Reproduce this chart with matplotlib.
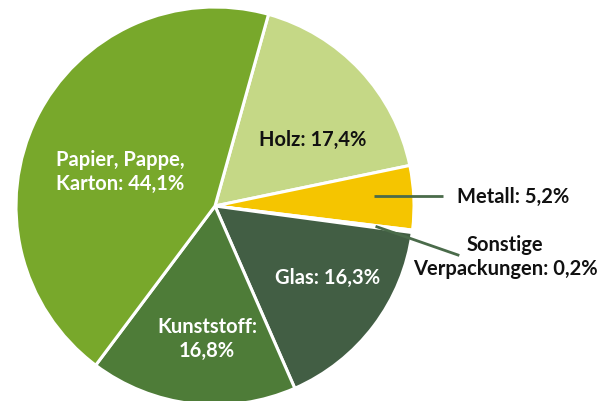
import matplotlib
matplotlib.use("Agg")
import matplotlib.pyplot as plt
import numpy as np

categories = ["Holz", "Metall", "Sonstige Verpackungen", "Glas", "Kunststoff", "Papier, Pappe, Karton"]
values = [17.4, 5.2, 0.2, 16.3, 16.8, 44.1]
labels = ["Holz: 17,4%", "Metall: 5,2%", "Sonstige\nVerpackungen: 0,2%", "Glas: 16,3%",
          "Kunststoff:\n16,8%", "Papier, Pappe,\nKarton: 44,1%"]
colors = ["#c5d886", "#f5c500", "#dfe6c9", "#425e44", "#4e7c38", "#78a82b"]
text_colors = ["#111111", "#111111", "#111111", "white", "white", "white"]

plt.rcParams['font.family'] = ['Lato', 'DejaVu Sans']
FS = 14.5

fig = plt.figure(figsize=(6.01, 4.02), dpi=100)
ax = fig.add_axes([0, 0, 1, 1])

cx, cy, R = 215, 195, 199
wedges, _ = ax.pie(values, colors=colors, startangle=74.4, counterclock=False,
                   center=(cx, cy), radius=R, frame=True,
                   wedgeprops=dict(edgecolor='white', linewidth=2.2))
ax.set_xlim(0, 601)
ax.set_ylim(0, 402)
ax.set_aspect('equal')
ax.axis('off')

H = 402
label_pos = {0: (313, H - 140), 3: (328, H - 278), 4: (207, H - 339), 5: (120, H - 172)}
for i, (x, y) in label_pos.items():
    ax.text(x, y, labels[i], ha='center', va='center', fontsize=FS,
            fontweight='bold', color=text_colors[i], linespacing=1.3)

# Metall leader
ang = np.deg2rad((wedges[1].theta1 + wedges[1].theta2) / 2)
x0 = cx + 0.8 * R * np.cos(ang)
y0 = H - 197
ax.plot([x0, 443], [y0, y0], color="#4a6b4a", lw=2, solid_capstyle='butt')
ax.text(513, y0, labels[1], ha='center', va='center', fontsize=FS,
        fontweight='bold', color='#111111')

# Sonstige leader
ang = np.deg2rad((wedges[2].theta1 + wedges[2].theta2) / 2)
x1, y1 = cx + 0.82 * R * np.cos(ang), cy + 0.82 * R * np.sin(ang)
ax.plot([x1, 458], [y1, H - 256], color="#4a6b4a", lw=2)
ax.text(505, H - 257, labels[2], ha='center', va='center', fontsize=FS,
        fontweight='bold', color='#111111', linespacing=1.3)

fig.savefig("out.png", dpi=100)
